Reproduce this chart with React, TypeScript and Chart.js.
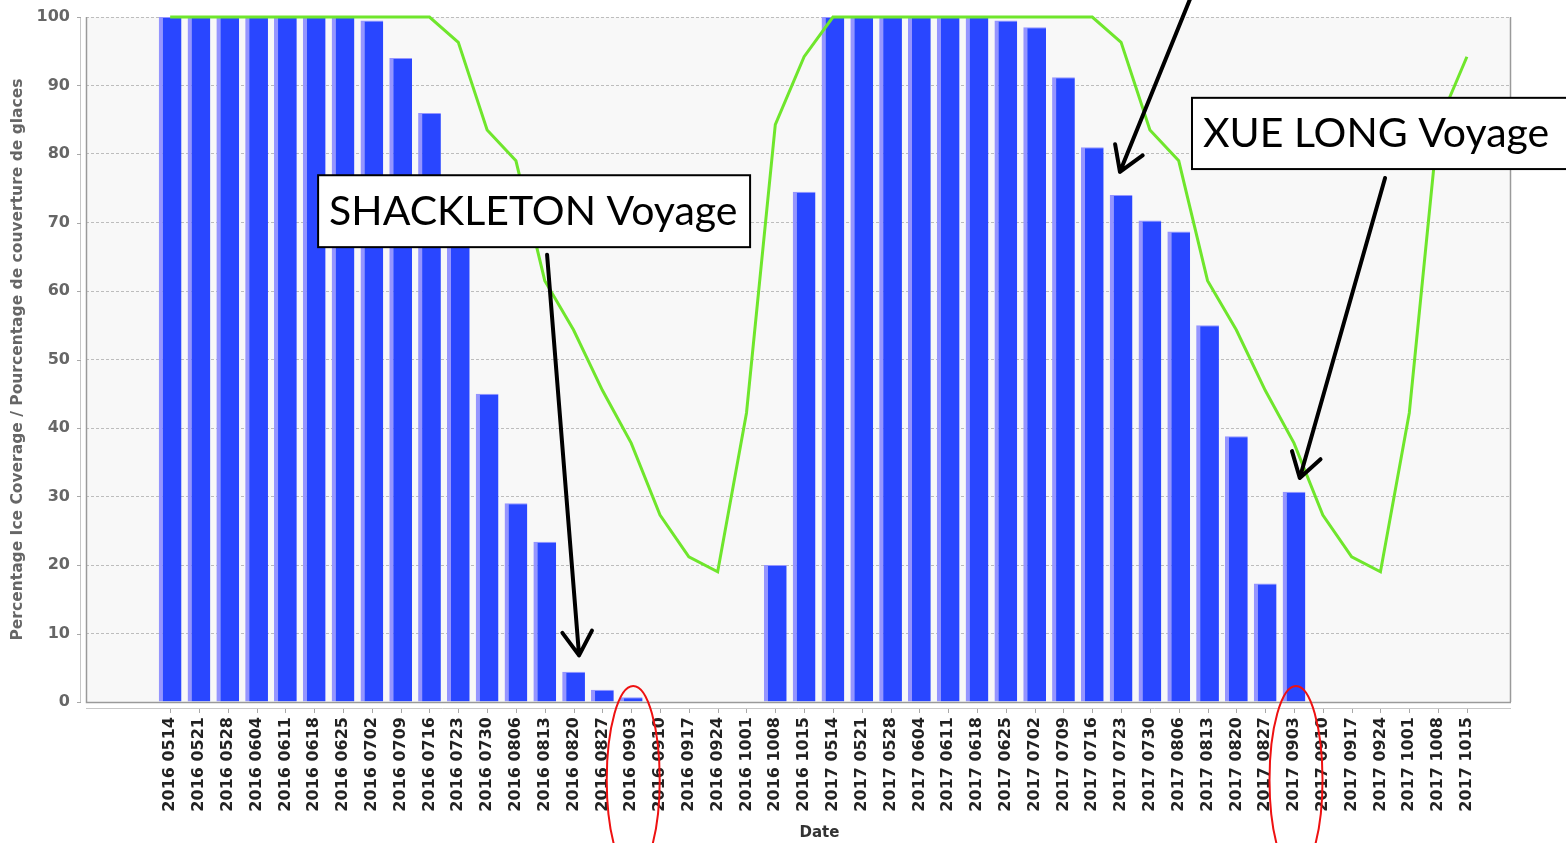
import { useEffect, useRef } from 'react';
import { Chart, registerables } from 'chart.js';

Chart.register(...registerables);

// ---- data ----
const weeks2016 = ['2016 0514', '2016 0521', '2016 0528', '2016 0604', '2016 0611', '2016 0618', '2016 0625', '2016 0702', '2016 0709', '2016 0716', '2016 0723', '2016 0730', '2016 0806', '2016 0813', '2016 0820', '2016 0827', '2016 0903', '2016 0910', '2016 0917', '2016 0924', '2016 1001', '2016 1008', '2016 1015'];
const weeks2017 = ['2017 0514', '2017 0521', '2017 0528', '2017 0604', '2017 0611', '2017 0618', '2017 0625', '2017 0702', '2017 0709', '2017 0716', '2017 0723', '2017 0730', '2017 0806', '2017 0813', '2017 0820', '2017 0827', '2017 0903', '2017 0910', '2017 0917', '2017 0924', '2017 1001', '2017 1008', '2017 1015'];

const ice2016: (number | null)[] = [100, 100, 100, 100, 100, 100, 100, 99.5, 94, 86, 70, 45, 29, 23.4, 4.4, 1.8, 0.7, null, null, null, null, 20, 74.5];
const ice2017: (number | null)[] = [100, 100, 100, 100, 100, 100, 99.5, 98.5, 91.2, 81, 74, 70.3, 68.7, 55, 38.8, 17.3, 30.7, null, null, null, null, null, null];

const median2016 = [100, 100, 100, 100, 100, 100, 100, 100, 100, 100, 96.3, 83.5, 79, 61.5, 54.3, 45.5, 37.8, 27.3, 21.2, 19, 42.2, 84.3, 94.2];
const median2017 = [100, 100, 100, 100, 100, 100, 100, 100, 100, 100, 96.3, 83.5, 79, 61.5, 54.3, 45.5, 37.8, 27.3, 21.2, 19, 42.2, 84.3, 94.2];

const yTickValues = [0, 10, 20, 30, 40, 50, 60, 70, 80, 90, 100];

const yTitle = 'Percentage Ice Coverage / Pourcentage de couverture de glaces';
const xTitle = 'Date';

// annotations in data coordinates (category index, percent)
const noteBoxes = [
  { text: 'SHACKLETON Voyage', x1: 5.135, x2: 20.125, top: 76.9, bottom: 66.4 },
  { text: 'XUE LONG Voyage', x1: 35.46, x2: 49.5, top: 88.2, bottom: 77.8 },
];
const noteArrows = [
  { from: [13.08, 65.3], to: [14.19, 6.8] },
  { from: [42.16, 76.5], to: [39.2, 32.7] },
  { from: [35.39, 102.6], to: [32.96, 77.4] },
];
const circledWeeks = [16, 39];

const dates = [...weeks2016, ...weeks2017];
const iceValues = [...ice2016, ...ice2017];
const medianValues = [...median2016, ...median2017];

const BAR_BLUE = '#2946ff';
const BAR_EDGE = '#9595ff';
const LINE_GREEN = '#6fe62c';

const framePlugin = {
  id: 'frame',
  beforeDraw(chart: any) {
    const { ctx, chartArea: a } = chart;
    ctx.save();
    ctx.fillStyle = '#f8f8f8';
    ctx.fillRect(a.left, a.top, a.right - a.left, a.bottom - a.top);
    ctx.restore();
  },
  afterDatasetsDraw(chart: any) {
    const { ctx, chartArea: a } = chart;
    const xs = chart.scales.x;
    const ys = chart.scales.y;
    ctx.save();
    ctx.lineWidth = 1.5;
    ctx.strokeStyle = '#9a9a9a';
    ctx.beginPath();
    ctx.moveTo(a.left + 0.5, a.top);
    ctx.lineTo(a.left + 0.5, a.bottom + 0.5);
    ctx.lineTo(a.right, a.bottom + 0.5);
    ctx.moveTo(a.right - 0.5, a.top);
    ctx.lineTo(a.right - 0.5, a.bottom);
    ctx.stroke();
    // separate axis lines
    ctx.lineWidth = 1;
    ctx.strokeStyle = '#c8c8c8';
    ctx.beginPath();
    ctx.moveTo(a.left - 5.5, a.top);
    ctx.lineTo(a.left - 5.5, a.bottom);
    ctx.moveTo(a.left, a.bottom + 6.5);
    ctx.lineTo(a.right, a.bottom + 6.5);
    ctx.stroke();
    ctx.strokeStyle = '#a8a8a8';
    ctx.beginPath();
    yTickValues.forEach((v) => {
      const y = Math.round(ys.getPixelForValue(v)) + 0.5;
      ctx.moveTo(a.left - 9, y);
      ctx.lineTo(a.left - 5, y);
    });
    dates.forEach((_, i) => {
      const x = Math.round(xs.getPixelForValue(i)) + 0.5;
      ctx.moveTo(x, a.bottom + 7);
      ctx.lineTo(x, a.bottom + 11);
    });
    ctx.stroke();
    ctx.restore();
  },
  afterDraw(chart: any) {
    const { ctx, chartArea: a } = chart;
    const xs = chart.scales.x;
    const ys = chart.scales.y;
    const px = (i: number) => xs.getPixelForValue(i);
    const py = (v: number) => ys.getPixelForValue(v);
    ctx.save();
    // axis title "Date"
    ctx.fillStyle = '#333';
    ctx.font = 'bold 15px "DejaVu Sans"';
    ctx.textAlign = 'center';
    ctx.textBaseline = 'middle';
    ctx.fillText(xTitle, (a.left + a.right) / 2 + 21, a.bottom + 131);

    // text boxes
    noteBoxes.forEach((b) => {
      const x1 = px(b.x1);
      const x2 = px(b.x2);
      const y1 = py(b.top);
      const y2 = py(b.bottom);
      ctx.fillStyle = '#ffffff';
      ctx.fillRect(x1, y1, x2 - x1, y2 - y1);
      ctx.lineWidth = 2;
      ctx.strokeStyle = '#000';
      ctx.strokeRect(x1, y1, x2 - x1, y2 - y1);
      ctx.fillStyle = '#000';
      ctx.font = '41px Lato';
      ctx.textAlign = 'left';
      ctx.textBaseline = 'alphabetic';
      ctx.fillText(b.text, x1 + 11, (y1 + y2) / 2 + 14);
    });

    // arrows
    ctx.strokeStyle = '#000';
    ctx.lineWidth = 4;
    ctx.lineCap = 'round';
    ctx.lineJoin = 'round';
    noteArrows.forEach((ar) => {
      const fx = px(ar.from[0]);
      const fy = py(ar.from[1]);
      const tx = px(ar.to[0]);
      const ty = py(ar.to[1]);
      const ang = Math.atan2(ty - fy, tx - fx);
      const len = 28;
      const spread = (32 * Math.PI) / 180;
      ctx.beginPath();
      ctx.moveTo(fx, fy);
      ctx.lineTo(tx, ty);
      ctx.moveTo(tx - len * Math.cos(ang - spread), ty - len * Math.sin(ang - spread));
      ctx.lineTo(tx, ty);
      ctx.lineTo(tx - len * Math.cos(ang + spread), ty - len * Math.sin(ang + spread));
      ctx.stroke();
    });

    // red ellipses around the 0903 labels
    ctx.strokeStyle = '#ee1111';
    ctx.lineWidth = 2;
    circledWeeks.forEach((i) => {
      ctx.beginPath();
      ctx.ellipse(px(i) + 2, a.bottom + 78, 26.5, 94, 0, 0, Math.PI * 2);
      ctx.stroke();
    });
    ctx.restore();
  },
};

export default function App() {
  const canvasRef = useRef<HTMLCanvasElement | null>(null);

  useEffect(() => {
    document.body.style.margin = '0';
    document.body.style.overflow = 'hidden';
    const canvas = canvasRef.current;
    if (!canvas) return;
    const chart = new Chart(canvas, {
      type: 'bar',
      data: {
        datasets: [
          {
            type: 'line',
            label: 'Median',
            data: medianValues.map((v, i) => ({ x: i, y: v })),
            borderColor: LINE_GREEN,
            borderWidth: 3,
            pointRadius: 0,
            tension: 0,
            fill: false,
            order: 0,
            clip: 4,
          } as any,
          {
            type: 'bar',
            label: 'Ice coverage',
            data: iceValues.map((v, i) => ({ x: i, y: v })),
            backgroundColor: BAR_BLUE,
            borderColor: BAR_EDGE,
            borderWidth: { left: 4, top: 1, right: 0, bottom: 0 },
            borderSkipped: false,
            categoryPercentage: 1,
            barPercentage: 0.79,
            order: 1,
          } as any,
        ],
      },
      options: {
        animation: false,
        responsive: true,
        maintainAspectRatio: false,
        events: [],
        layout: { padding: { left: 0, top: 17, right: 55, bottom: 0 } },
        plugins: {
          legend: { display: false },
          tooltip: { enabled: false },
        },
        scales: {
          x: {
            type: 'linear',
            min: -2.92,
            max: 46.53,
            offset: false,
            afterFit: (s: any) => {
              s.height = 141;
              s.paddingLeft = 0;
              s.paddingRight = 0;
              s.paddingTop = 0;
              s.paddingBottom = 0;
            },
            afterBuildTicks: (s: any) => {
              s.ticks = dates.map((_, i) => ({ value: i }));
            },
            grid: { display: false, drawTicks: false },
            border: { display: false },
            ticks: {
              autoSkip: false,
              minRotation: 90,
              maxRotation: 90,
              padding: 15,
              color: '#222',
              font: { family: '"DejaVu Sans"', size: 16, weight: 'bold' },
              callback: (v: any) => dates[v as number] ?? '',
            },
          },
          y: {
            min: 0,
            max: 100,
            afterFit: (s: any) => {
              s.width = 86;
              s.paddingLeft = 0;
              s.paddingRight = 0;
              s.paddingTop = 0;
              s.paddingBottom = 0;
            },
            grid: {
              color: '#bdbdbd',
              lineWidth: 1,
              drawTicks: false,
            },
            border: { display: false, dash: [3, 2] },
            ticks: {
              stepSize: 10,
              padding: 16,
              color: '#666',
              font: { family: '"DejaVu Sans"', size: 16, weight: 'bold' },
            },
            title: {
              display: true,
              text: yTitle,
              color: '#666',
              font: { family: '"DejaVu Sans"', size: 15.5, weight: 'bold' },
              padding: { top: 9, bottom: 0 },
            },
          },
        },
      },
      plugins: [framePlugin],
    });
    return () => chart.destroy();
  }, []);

  return (
    <div style={{ width: '1566px', height: '843px', position: 'relative' }}>
      <canvas ref={canvasRef} />
    </div>
  );
}
